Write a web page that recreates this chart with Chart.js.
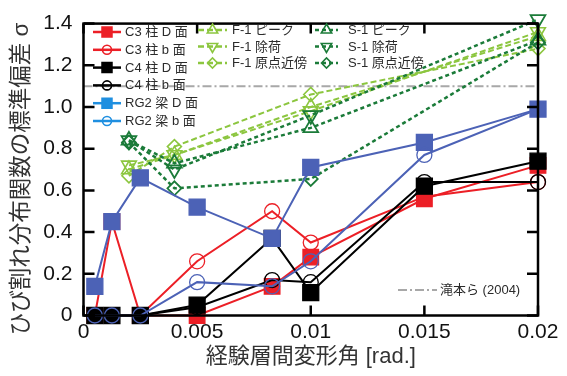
<!DOCTYPE html>
<html lang="ja">
<head>
<meta charset="utf-8">
<title>ひび割れ分布関数の標準偏差</title>
<script src="https://cdn.jsdelivr.net/npm/chart.js@4.4.1/dist/chart.umd.min.js"></script>
<style>
  html, body { margin: 0; padding: 0; background: #fff; }
  #wrap { width: 567px; height: 376px; }
</style>
</head>
<body>
<div id="wrap"><canvas id="sigmaChart"></canvas></div>
<script>
// 経験層間変形角ごとの標準偏差 (柱・梁の各面)
const driftX = [0.0005, 0.00125, 0.0025, 0.005, 0.0083, 0.01, 0.015, 0.02];
const c3D  = [0, 0.45, 0, 0,    0.14, 0.28, 0.56, 0.72];
const c3b  = [0, 0,    0, 0.26, 0.50, 0.35, 0.57, 0.64];
const c4D  = [0, 0,    0, 0.05, 0.37, 0.11, 0.62, 0.74];
const c4b  = [0, 0,    0, 0.04, 0.17, 0.16, 0.64, 0.64];
const rg2D = [0.14, 0.45, 0.66, 0.52, 0.37, 0.71, 0.83, 0.99];
const rg2b = [0, 0,    0, 0.16, 0.14, 0.26, 0.77, 0.99];

// F-1 / S-1 試験体
const testX    = [0.002, 0.004, 0.01, 0.02];
const f1Peak   = [0.70, 0.77, 1.00, 1.34];
const f1Unload = [0.72, 0.77, 0.98, 1.36];
const f1Origin = [0.67, 0.81, 1.06, 1.28];
const s1Peak   = [0.84, 0.73, 0.90, 1.32];
const s1Unload = [0.84, 0.70, 0.96, 1.42];
const s1Origin = [0.83, 0.61, 0.655, 1.31];

// 滝本ら (2004) の値
const refX = [0, 0.02];
const refY = [1.1, 1.1];

const xTickVals = [0, 0.005, 0.01, 0.015, 0.02];
const xTickLabels = ['0', '0.005', '0.01', '0.015', '0.02'];
const yTickVals = [0, 0.2, 0.4, 0.6, 0.8, 1.0, 1.2, 1.4];
const yTickLabels = ['0', '0.2', '0.4', '0.6', '0.8', '1.0', '1.2', '1.4'];

const FONT = "'Liberation Sans', Arial, 'Noto Sans CJK JP', sans-serif";
const RED = '#ec1f26';
const BLUE = '#4c62b6';
const BLUE_KEY = '#1f8fe0';
const LGREEN = '#8cc63f';
const DGREEN = '#1b7b39';
const GRAY = '#a8a8a8';

function pts(xs, ys) {
  return xs.map((x, i) => ({ x: x, y: ys[i] }));
}

function series(label, xs, ys, color, marker, opts) {
  const o = opts || {};
  const r = o.radius ?? 7;
  return {
    label: label,
    data: pts(xs, ys),
    borderColor: color,
    borderWidth: o.lineWidth || 2,
    borderDash: o.dash || [],
    pointStyle: marker,
    pointRotation: o.rotation || 0,
    pointRadius: r,
    pointHoverRadius: r,
    pointBorderWidth: o.pointBorder || 1.3,
    pointBorderColor: color,
    pointBackgroundColor: o.filled ? color : 'rgba(0,0,0,0)',
    keyColor: o.keyColor || color,
    order: o.order,
    clip: false,
    tension: 0
  };
}

const f1Line = { dash: [6, 3], lineWidth: 2 };
const s1Line = { dash: [4, 3], lineWidth: 2.5 };

const datasets = [
  series('C3 柱 D 面', driftX, c3D, RED, 'rect', { filled: true, radius: 11, order: 6 }),
  series('C3 柱 b 面', driftX, c3b, RED, 'circle', { radius: 7.5, order: 5 }),
  series('C4 柱 D 面', driftX, c4D, '#000', 'rect', { filled: true, radius: 11.3, order: 4 }),
  series('C4 柱 b 面', driftX, c4b, '#000', 'circle', { radius: 7.5, order: 3 }),
  series('RG2 梁 D 面', driftX, rg2D, BLUE, 'rect', { filled: true, radius: 11.3, order: 2, keyColor: BLUE_KEY }),
  series('RG2 梁 b 面', driftX, rg2b, BLUE, 'circle', { radius: 7.5, order: 1, keyColor: BLUE_KEY }),
  series('F-1 ピーク', testX, f1Peak, LGREEN, 'triangle', Object.assign({ radius: 8.5, pointBorder: 1.6, order: 10 }, f1Line)),
  series('F-1 除荷', testX, f1Unload, LGREEN, 'triangle', Object.assign({ radius: 8.5, rotation: 180, pointBorder: 1.6, order: 11 }, f1Line)),
  series('F-1 原点近傍', testX, f1Origin, LGREEN, 'rectRot', Object.assign({ radius: 7, pointBorder: 1.6, order: 12 }, f1Line)),
  series('S-1 ピーク', testX, s1Peak, DGREEN, 'triangle', Object.assign({ radius: 8.5, pointBorder: 1.8, order: 7 }, s1Line)),
  series('S-1 除荷', testX, s1Unload, DGREEN, 'triangle', Object.assign({ radius: 8.5, rotation: 180, pointBorder: 1.8, order: 8 }, s1Line)),
  series('S-1 原点近傍', testX, s1Origin, DGREEN, 'rectRot', Object.assign({ radius: 7, pointBorder: 1.8, order: 9 }, s1Line)),
  series('滝本ら (2004)', refX, refY, GRAY, 'circle', { radius: 0, dash: [9, 3, 2, 3], lineWidth: 2, order: 13 })
];

// 凡例: 左列 (柱・梁), 中列 (F-1), 右列 (S-1), 右下 (滝本ら)
const legendBlocks = [
  { x: 93, y: 32, dy: 17.8, len: 28, gap: 4, labels: ['C3 柱 D 面', 'C3 柱 b 面', 'C4 柱 D 面', 'C4 柱 b 面', 'RG2 梁 D 面', 'RG2 梁 b 面'] },
  { x: 198, y: 30, dy: 16.5, len: 29, gap: 5, labels: ['F-1 ピーク', 'F-1 除荷', 'F-1 原点近傍'] },
  { x: 315, y: 30, dy: 16.5, len: 23, gap: 10, labels: ['S-1 ピーク', 'S-1 除荷', 'S-1 原点近傍'] },
  { x: 398, y: 290, dy: 0, len: 39, gap: 3, labels: ['滝本ら (2004)'] }
];

const keyPlugin = {
  id: 'keyPlugin',
  afterDraw(chart) {
    const ctx = chart.ctx;
    const byLabel = {};
    chart.data.datasets.forEach(d => { byLabel[d.label] = d; });
    ctx.save();
    ctx.font = '13px ' + FONT;
    ctx.textBaseline = 'middle';
    legendBlocks.forEach(b => {
      b.labels.forEach((lab, i) => {
        const d = byLabel[lab];
        const y = b.y + i * b.dy;
        const col = d.keyColor;
        ctx.strokeStyle = col;
        ctx.lineWidth = d.pointRadius ? 2.5 : 2;
        ctx.setLineDash(d.borderDash);
        ctx.beginPath();
        ctx.moveTo(b.x, y);
        ctx.lineTo(b.x + b.len, y);
        ctx.stroke();
        ctx.setLineDash([]);
        if (d.pointRadius) {
          ctx.fillStyle = d.pointBackgroundColor === 'rgba(0,0,0,0)' ? 'rgba(0,0,0,0)' : col;
          ctx.lineWidth = 1.6;
          const r = d.pointStyle === 'rect' ? 7 : d.pointStyle === 'circle' ? 4.5 : d.pointStyle === 'rectRot' ? 5 : 6;
          Chart.helpers.drawPoint(ctx, {
            pointStyle: d.pointStyle, rotation: d.pointRotation, radius: r, borderWidth: 1.6
          }, b.x + b.len / 2, y);
        }
        ctx.fillStyle = '#2b2b2b';
        ctx.fillText(lab, b.x + b.len + b.gap, y + 0.5);
      });
    });
    ctx.restore();
  }
};

// 枠と内向きの目盛り
const framePlugin = {
  id: 'framePlugin',
  afterDatasetsDraw(chart) {
    const { ctx, chartArea: a, scales: { x, y } } = chart;
    ctx.save();
    ctx.strokeStyle = '#000';
    ctx.lineWidth = 2.5;
    ctx.strokeRect(a.left, a.top, a.right - a.left, a.bottom - a.top);
    ctx.beginPath();
    xTickVals.forEach(v => {
      const px = x.getPixelForValue(v);
      ctx.moveTo(px, a.bottom); ctx.lineTo(px, a.bottom - 10);
      ctx.moveTo(px, a.top); ctx.lineTo(px, a.top + 10);
    });
    yTickVals.forEach(v => {
      const py = y.getPixelForValue(v);
      ctx.moveTo(a.left, py); ctx.lineTo(a.left + 11, py);
      ctx.moveTo(a.right, py); ctx.lineTo(a.right - 11, py);
    });
    ctx.stroke();
    ctx.restore();
  }
};

const config = {
  type: 'line',
  data: { datasets: datasets },
  options: {
    responsive: true,
    maintainAspectRatio: false,
    animation: false,
    events: [],
    layout: { padding: { top: 19.5, right: 29, left: 0, bottom: 0 } },
    plugins: {
      legend: { display: false },
      tooltip: { enabled: false }
    },
    scales: {
      x: {
        type: 'linear',
        min: 0,
        max: 0.02,
        grid: { display: false, drawTicks: false },
        border: { display: false },
        afterBuildTicks: s => { s.ticks = xTickVals.map(v => ({ value: v })); },
        afterFit: s => { s.height = 60.5; },
        ticks: {
          font: { family: FONT, size: 21 },
          color: '#111',
          padding: 4,
          maxRotation: 0,
          callback: (v, i) => xTickLabels[i]
        },
        title: {
          display: true,
          text: '経験層間変形角 [rad.]',
          font: { family: FONT, size: 22 },
          color: '#333',
          padding: { top: 0, bottom: 6 }
        }
      },
      y: {
        type: 'linear',
        min: 0,
        max: 1.4,
        grid: { display: false, drawTicks: false },
        border: { display: false },
        afterBuildTicks: s => { s.ticks = yTickVals.map(v => ({ value: v })); },
        afterFit: s => { s.width = 83.5; },
        ticks: {
          font: { family: FONT, size: 21 },
          color: '#111',
          padding: 11,
          callback: (v, i) => yTickLabels[i]
        },
        title: {
          display: true,
          // 末尾の空白で軸中央より少し下に寄せる
          text: 'ひび割れ分布関数の標準偏差 σ   ',
          font: { family: FONT, size: 22.5 },
          color: '#333',
          padding: { top: 8, bottom: 0 }
        }
      }
    }
  },
  plugins: [framePlugin, keyPlugin]
};

const sigmaChart = new Chart(document.getElementById('sigmaChart'), config);
</script>
</body>
</html>
